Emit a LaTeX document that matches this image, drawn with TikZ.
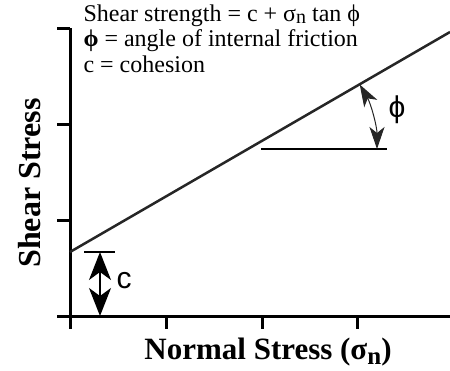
\documentclass[tikz,border=0pt]{standalone}
\usepackage{fontspec}
\setmainfont{Liberation Serif}
\newfontfamily\sansfam{Liberation Sans}
\usetikzlibrary{arrows.meta}

\begin{document}
\begin{tikzpicture}[x=1pt, y=-1pt, >={Stealth[length=28pt, width=22pt, inset=8pt]}]
    \useasboundingbox (0,0) rectangle (450,370);

    % axes and ticks
    \draw[line width=3pt] (70,28) -- (70,316) -- (450,316);
    \foreach \y in {28,124,220,316}
        \draw[line width=3pt] (57,\y) -- (70,\y);
    \foreach \x in {70,166,262,357}
        \draw[line width=3pt] (\x,316) -- (\x,329);

    % failure envelope
    \draw[line width=2.5pt, black!85] (70,252) -- (450,32);
    \draw[line width=2pt] (261,149) -- (387,149);
    \draw[line width=2pt] (84,252) -- (115,252);

    % angle and cohesion arrows
    \draw[<->, line width=1pt, >={Stealth[length=22pt, width=15pt, inset=6pt]}, black!85]
        (377,149) arc[start angle=0, end angle=-30, radius=129];
    \draw[<->, line width=1.5pt] (100,252) -- (100,316);

    \node[font=\sansfam\fontsize{30}{32}\selectfont] (phi) at (397,110) {ϕ};
    \node[font=\sansfam\fontsize{30}{32}\selectfont] (coh) at (124,281) {c};

    \node[anchor=north west, align=left, font=\fontsize{24}{25.5}\selectfont] (legend) at (80,1)
        {Shear strength = c + σ\raisebox{-0.25ex}{\fontsize{20}{20}\selectfont n} tan ϕ\\
         \textbf{ϕ} = angle of internal friction\\
         c = cohesion};

    \node[rotate=90, font=\bfseries\fontsize{32}{34}\selectfont] (ylab) at (30,183) {Shear Stress};
    \node[font=\bfseries\fontsize{31}{34}\selectfont] (xlab) at (268,352)
        {Normal Stress (σ\raisebox{-0.35ex}{\fontsize{25}{25}\selectfont n})};
\end{tikzpicture}
\end{document}
